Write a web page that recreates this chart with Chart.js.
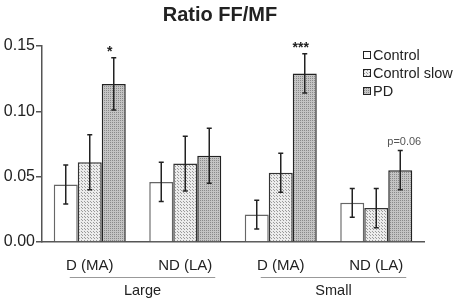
<!DOCTYPE html>
<html>
<head>
<meta charset="utf-8">
<script src="https://cdn.jsdelivr.net/npm/chart.js@4"></script>
<style>
  body { margin: 0; background: #fff; }
  #wrap { width: 456px; height: 300px; }
</style>
</head>
<body>
<div id="wrap"><canvas id="barChart" width="456" height="300"></canvas></div>
<script>
const categories = ['D (MA)', 'ND (LA)', 'D (MA)', 'ND (LA)'];
const groups = [{ label: 'Large', from: 0, to: 1 }, { label: 'Small', from: 2, to: 3 }];
const seriesNames = ['Control', 'Control slow', 'PD'];
const controlVals = [0.044, 0.046, 0.021, 0.030];
const controlErr = [0.015, 0.015, 0.011, 0.011];
const slowVals = [0.061, 0.060, 0.053, 0.026];
const slowErr = [0.021, 0.021, 0.015, 0.015];
const pdVals = [0.121, 0.066, 0.129, 0.055];
const pdErr = [0.020, 0.021, 0.015, 0.015];
const stars = ['*', '', '***', 'p=0.06'];
const yTicks = [0, 0.05, 0.10, 0.15];

const font = '"Liberation Sans", Arial, sans-serif';

// fill patterns like the print figure
function makePattern(bg, dot, step) {
  const c = document.createElement('canvas');
  c.width = step; c.height = step;
  const g = c.getContext('2d');
  g.fillStyle = bg;
  g.fillRect(0, 0, step, step);
  g.fillStyle = dot;
  g.fillRect(0, 0, 1, 1);
  if (step > 2) g.fillRect(Math.floor(step / 2), Math.floor(step / 2), 1, 1);
  return g.createPattern(c, 'repeat');
}
const slowFill = makePattern('#ececec', '#9a9a9a', 3);
const pdFill = makePattern('#c4c4c4', '#8a8a8a', 2);
const fills = ['#ffffff', slowFill, pdFill];
const borders = ['#666666', '#333333', '#222222'];
const errs = [controlErr, slowErr, pdErr];

const extras = {
  id: 'extras',
  afterDatasetsDraw(chart) {
    const ctx = chart.ctx;
    const y = chart.scales.y;
    const x = chart.scales.x;
    ctx.save();
    // error bars
    chart.data.datasets.forEach((ds, di) => {
      const meta = chart.getDatasetMeta(di);
      meta.data.forEach((bar, i) => {
        const v = ds.data[i], e = errs[di][i];
        const top = y.getPixelForValue(v + e), bot = y.getPixelForValue(v - e);
        ctx.strokeStyle = '#222';
        ctx.lineWidth = 1.5;
        ctx.beginPath();
        ctx.moveTo(bar.x, top); ctx.lineTo(bar.x, bot);
        ctx.moveTo(bar.x - 2.5, top); ctx.lineTo(bar.x + 2.5, top);
        ctx.moveTo(bar.x - 2.5, bot); ctx.lineTo(bar.x + 2.5, bot);
        ctx.stroke();
      });
    });
    // significance marks above PD
    const pdMeta = chart.getDatasetMeta(2);
    pdMeta.data.forEach((bar, i) => {
      if (!stars[i]) return;
      const top = y.getPixelForValue(pdVals[i] + pdErr[i]);
      ctx.textAlign = 'center';
      if (stars[i].startsWith('p')) {
        ctx.fillStyle = '#555';
        ctx.font = '11px ' + font;
        ctx.textBaseline = 'bottom';
        ctx.fillText(stars[i], bar.x + 4, top - 3);
      } else {
        ctx.fillStyle = '#222';
        ctx.font = 'bold 14px ' + font;
        ctx.textBaseline = 'bottom';
        ctx.fillText(stars[i], bar.x - 4, top + 1);
      }
    });
    // group underline and labels
    ctx.strokeStyle = '#999';
    ctx.lineWidth = 1;
    ctx.fillStyle = '#222';
    ctx.font = '14.5px ' + font;
    ctx.textAlign = 'center';
    ctx.textBaseline = 'middle';
    groups.forEach(gr => {
      const a = x.getPixelForValue(gr.from) - 20, b = x.getPixelForValue(gr.to) + 30;
      ctx.beginPath();
      ctx.moveTo(a, 277.5); ctx.lineTo(b, 277.5);
      ctx.stroke();
      ctx.fillText(gr.label, (a + b) / 2, 291);
    });
    // title
    ctx.font = 'bold 20px ' + font;
    ctx.textBaseline = 'alphabetic';
    ctx.fillText('Ratio FF/MF', 220, 21);
    // legend
    ctx.font = '14.5px ' + font;
    ctx.textAlign = 'left';
    ctx.textBaseline = 'middle';
    seriesNames.forEach((n, i) => {
      const ly = 55 + i * 18;
      ctx.fillStyle = fills[i];
      ctx.fillRect(363, ly - 4, 8, 8);
      ctx.strokeStyle = '#222';
      ctx.lineWidth = 1;
      ctx.strokeRect(363.5, ly - 3.5, 7, 7);
      ctx.fillStyle = '#222';
      ctx.fillText(n, 373, ly + 1);
    });
    ctx.restore();
  }
};

const chart = new Chart(document.getElementById('barChart').getContext('2d'), {
  type: 'bar',
  data: {
    labels: categories,
    datasets: [controlVals, slowVals, pdVals].map((d, i) => ({
      label: seriesNames[i],
      data: d,
      backgroundColor: fills[i],
      borderColor: borders[i],
      borderWidth: 1.5,
      categoryPercentage: 0.754,
      barPercentage: 1
    }))
  },
  options: {
    responsive: false,
    animation: false,
    layout: { padding: { top: 46, right: 32, left: 0, bottom: 0 } },
    plugins: { legend: { display: false }, title: { display: false }, tooltip: { enabled: false } },
    scales: {
      x: {
        grid: { display: false, drawTicks: false },
        border: { color: '#555', width: 1.5 },
        ticks: { color: '#222', font: { family: font, size: 15 }, padding: 15, maxRotation: 0 },
        afterFit(s) { s.height = 58; }
      },
      y: {
        min: 0, max: 0.15,
        afterBuildTicks(s) { s.ticks = yTicks.map(v => ({ value: v })); },
        grid: { drawOnChartArea: false, drawTicks: true, tickLength: 6, color: '#555', lineWidth: 1.5 },
        border: { color: '#555', width: 1.5 },
        ticks: { color: '#222', font: { family: font, size: 16 }, padding: 1, callback: v => v.toFixed(2) },
        afterFit(s) { s.width = 42; }
      }
    }
  },
  plugins: [extras]
});
</script>
</body>
</html>
